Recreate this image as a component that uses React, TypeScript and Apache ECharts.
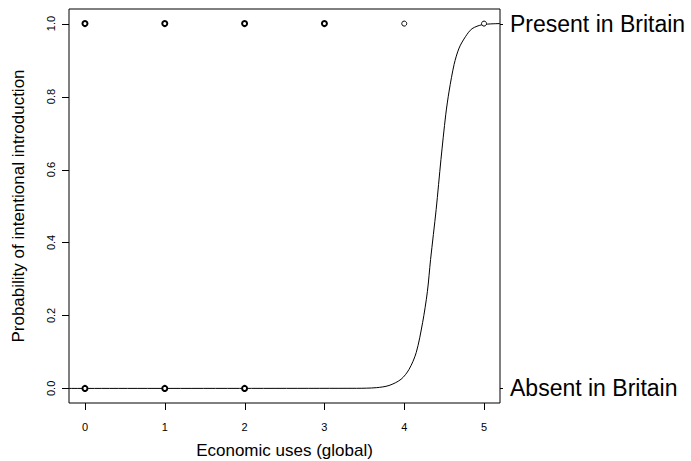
import React, { useEffect, useRef } from "react";
import * as echarts from "echarts";

// Observed records (x = economic uses, y = 0 absent / 1 present)
const presentManyX = [0, 1, 2, 3];
const presentSingleX = [4, 5];
const absentManyX = [0, 1, 2];

// Fitted probability curve
const curveX = [-0.2, 3.4, 3.65, 3.81, 3.96, 4.06, 4.15, 4.23, 4.29, 4.33, 4.4, 4.46, 4.52, 4.5625, 4.625, 4.6875, 4.77, 4.85, 4.98, 5.2];
const curveY = [0, 0.0003, 0.002, 0.008, 0.025, 0.052, 0.098, 0.18, 0.265, 0.353, 0.49, 0.627, 0.75, 0.815, 0.888, 0.933, 0.965, 0.986, 0.997, 1.0];

const xTicks = [0, 1, 2, 3, 4, 5];
const yTicks = [0, 0.2, 0.4, 0.6, 0.8, 1.0];
const rightTicks = [0, 1];
const rightLabels = ["Absent in Britain", "Present in Britain"];

const X_MIN = -0.2;
const X_MAX = 5.2;
const Y_MIN = -0.04;
const Y_MAX = 1.04;

const FONT = "Liberation Sans, Arial, sans-serif";

function tickSeries(values: number[], kind: "bottom" | "left" | "right") {
  return {
    type: "custom",
    silent: true,
    clip: false,
    z: 5,
    data: values.map((v) => [v]),
    renderItem: (_params: any, api: any) => {
      const v = api.value(0);
      let x1 = 0, y1 = 0, x2 = 0, y2 = 0;
      if (kind === "bottom") {
        const p = api.coord([v, Y_MIN]);
        const x = Math.round(p[0]) + 0.5;
        x1 = x; x2 = x; y1 = p[1]; y2 = p[1] + 7;
      } else if (kind === "left") {
        const p = api.coord([X_MIN, v]);
        const y = Math.round(p[1]) + 0.5;
        y1 = y; y2 = y; x1 = p[0]; x2 = p[0] - 7;
      } else {
        const p = api.coord([X_MAX, v]);
        const y = Math.round(p[1]) + 0.5;
        y1 = y; y2 = y; x1 = p[0]; x2 = p[0] + 3;
      }
      return {
        type: "line",
        shape: { x1, y1, x2, y2 },
        style: { stroke: "#000", lineWidth: 1 },
      };
    },
  };
}

export default function App() {
  const ref = useRef<HTMLDivElement>(null);
  useEffect(() => {
    if (!ref.current) return;
    const chart = echarts.init(ref.current, undefined, { renderer: "svg" });
    chart.setOption({
      animation: false,
      backgroundColor: "#ffffff",
      textStyle: { fontFamily: FONT },
      grid: {
        left: 69,
        top: 9,
        right: 191,
        bottom: 58,
        containLabel: false,
        outerBoundsMode: "none",
        show: true,
        borderColor: "#000",
        borderWidth: 1,
        backgroundColor: "transparent",
      },
      xAxis: {
        type: "value",
        min: X_MIN,
        max: X_MAX,
        name: "Economic uses (global)",
        nameLocation: "middle",
        nameGap: 39,
        nameTextStyle: { fontSize: 17, color: "#000", fontFamily: FONT },
        axisLine: { show: false, onZero: false },
        splitLine: { show: false },
        axisTick: { show: false },
        axisLabel: {
          customValues: xTicks,
          fontSize: 11,
          color: "#000",
          margin: 18,
          fontFamily: FONT,
        },
      },
      yAxis: [
        {
          type: "value",
          min: Y_MIN,
          max: Y_MAX,
          name: "Probability of intentional introduction",
          nameLocation: "middle",
          nameGap: 42,
          nameTextStyle: { fontSize: 17, color: "#000", fontFamily: FONT },
          axisLine: { show: false, onZero: false },
          splitLine: { show: false },
          axisTick: { show: false },
          axisLabel: {
            customValues: yTicks,
            rotate: 90,
            fontSize: 11,
            color: "#000",
            margin: 13,
            fontFamily: FONT,
            formatter: (v: number) => v.toFixed(1),
          },
        },
        {
          type: "value",
          position: "right",
          min: Y_MIN,
          max: Y_MAX,
          axisLine: { show: false, onZero: false },
          splitLine: { show: false },
          axisTick: { show: false },
          axisLabel: {
            customValues: rightTicks,
            fontSize: 23,
            color: "#000",
            margin: 10,
            fontFamily: FONT,
            formatter: (v: number) => rightLabels[Math.round(v)],
          },
        },
      ],
      series: [
        {
          type: "line",
          data: curveX.map((x, i) => [x, curveY[i]]),
          smooth: 0.3,
          showSymbol: false,
          lineStyle: { color: "#000", width: 1 },
          z: 2,
        },
        {
          type: "scatter",
          data: presentManyX.map((x) => [x, 1]),
          symbol: "circle",
          symbolSize: 5,
          itemStyle: { color: "#fff", borderColor: "#000", borderWidth: 2, opacity: 1 },
          z: 3,
        },
        {
          type: "scatter",
          data: absentManyX.map((x) => [x, 0]),
          symbol: "circle",
          symbolSize: 5,
          itemStyle: { color: "#fff", borderColor: "#000", borderWidth: 2, opacity: 1 },
          z: 3,
        },
        {
          type: "scatter",
          data: presentSingleX.map((x) => [x, 1]),
          symbol: "circle",
          symbolSize: 5,
          itemStyle: { color: "#fff", borderColor: "#000", borderWidth: 1, opacity: 1 },
          z: 3,
        },
        tickSeries(xTicks, "bottom"),
        tickSeries(yTicks, "left"),
        tickSeries(rightTicks, "right"),
      ],
    });
    return () => chart.dispose();
  }, []);
  return (
    <div
      ref={ref}
      style={{ position: "fixed", left: 0, top: 0, width: 691, height: 461, background: "#fff" }}
    />
  );
}
